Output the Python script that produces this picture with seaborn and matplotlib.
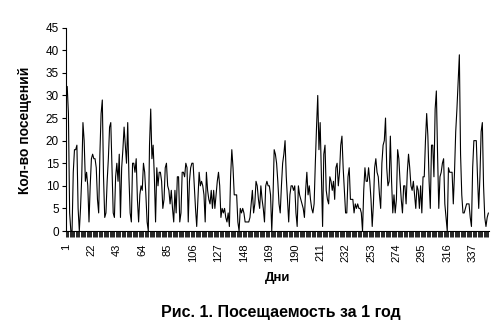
import matplotlib
matplotlib.use("Agg")
import matplotlib.pyplot as plt
import seaborn as sns
import pandas as pd
from matplotlib.ticker import MultipleLocator, FixedLocator

visits = [
    # days 1-45
    30, 32, 26, 4, 0, 0, 13, 18, 18, 19, 5, 0, 5, 12, 24, 20, 11, 13, 10, 2,
    10, 16, 17, 16, 16, 14, 7, 4, 17, 26, 29, 12, 3, 4, 11, 16, 23, 24, 14, 4,
    3, 12, 15, 11, 17,
    # days 46-90
    3, 14, 18, 23, 19, 15, 24, 12, 4, 2, 15, 15, 13, 16, 7, 2, 8, 10, 9, 15,
    13, 8, 2, 0, 19, 27, 16, 19, 12, 2, 14, 10, 13, 13, 11, 5, 7, 14, 15, 10,
    9, 6, 9, 5, 2,
    # days 91-136
    9, 4, 12, 12, 2, 4, 13, 13, 12, 15, 14, 2, 11, 14, 15, 15, 10, 5, 1, 7,
    13, 10, 11, 10, 8, 2, 13, 9, 7, 6, 9, 5, 9, 5, 8, 11, 13, 10, 3, 5,
    4, 5, 3, 2, 4, 1,
    # days 137-181
    12, 18, 14, 8, 8, 8, 2, 0, 5, 4, 5, 4, 2, 2, 2, 2, 3, 6, 9, 4,
    6, 11, 10, 7, 5, 10, 7, 5, 2, 10, 11, 10, 10, 8, 0, 7, 18, 17, 15, 11,
    6, 4, 10, 15, 17,
    # days 182-227
    20, 12, 7, 2, 8, 10, 10, 9, 10, 4, 1, 10, 8, 7, 6, 5, 3, 9, 13, 8,
    10, 7, 5, 4, 6, 15, 23, 30, 18, 24, 13, 1, 17, 19, 9, 7, 6, 12, 11, 9,
    11, 7, 14, 15, 10, 13,
    # days 228-272
    19, 21, 14, 9, 4, 4, 12, 14, 7, 7, 7, 4, 6, 5, 6, 5, 5, 4, 0, 9,
    14, 11, 11, 14, 11, 7, 1, 6, 14, 16, 13, 12, 8, 5, 15, 19, 20, 25, 14, 10,
    11, 21, 11, 4, 8,
    # days 273-317
    4, 7, 18, 16, 11, 7, 4, 10, 10, 6, 13, 17, 14, 10, 9, 11, 8, 5, 10, 9,
    5, 10, 4, 12, 12, 20, 26, 21, 11, 5, 19, 19, 12, 27, 31, 17, 5, 12, 13, 15,
    16, 6, 3, 0, 14,
    # days 318-350
    13, 13, 13, 6, 13, 22, 27, 33, 39, 17, 8, 4, 4, 5, 6, 6, 6, 3, 1, 14,
    20, 20, 20, 12, 5, 12, 22, 24, 10, 3, 1, 3, 4,
]
days = list(range(1, len(visits) + 1))
tick_days = list(range(1, 351, 21))

df = pd.DataFrame({"day": days, "visits": visits})

sns.set_theme(style="white")
plt.rcParams["font.family"] = ["Liberation Sans", "DejaVu Sans"]
plt.rcParams["text.color"] = "black"
plt.rcParams["axes.labelcolor"] = "black"
plt.rcParams["xtick.color"] = "black"
plt.rcParams["ytick.color"] = "black"

W, H = 494, 331
fig = plt.figure(figsize=(W / 100, H / 100), dpi=100)
ax = fig.add_axes([66 / W, 1 - 231 / H, (489 - 66) / W, (231 - 27.7) / H])

sns.lineplot(data=df, x="day", y="visits", ax=ax, color="black", linewidth=0.8)

ax.set_xlim(1, len(visits) + 0.5)
ax.set_ylim(0, 45)
ax.yaxis.set_major_locator(MultipleLocator(5))
ax.xaxis.set_major_locator(FixedLocator(tick_days))
ax.xaxis.set_minor_locator(MultipleLocator(1))
ax.set_xticklabels([str(d) for d in tick_days], rotation=90, fontsize=8)
ax.tick_params(axis="y", labelsize=8.5, direction="out", length=3, width=0.8,
               colors="black", pad=2, left=True)
ax.tick_params(axis="x", which="major", direction="out", length=4, width=0.6,
               colors="black", pad=5, bottom=True)
ax.tick_params(axis="x", which="minor", direction="out", length=4, width=0.6,
               colors="black", bottom=True)
for s in ["top", "right"]:
    ax.spines[s].set_visible(False)
for s in ["left", "bottom"]:
    ax.spines[s].set_color("black")
    ax.spines[s].set_linewidth(0.8)
ax.set_xlabel("")
ax.set_ylabel("")
ax.grid(False)

fig.text(25 / W, 1 - 130 / H, "Кол-во посещений", rotation=90, ha="center",
         va="center", fontsize=10, fontweight="bold", color="black")
fig.text(278 / W, 1 - 278 / H, "Дни", ha="center", va="center",
         fontsize=9.5, fontweight="bold", color="black")
fig.text(281 / W, 1 - 313 / H, "Рис. 1. Посещаемость за 1 год", ha="center",
         va="center", fontsize=11.5, fontweight="bold", color="black")

fig.savefig("out.png", dpi=100)
